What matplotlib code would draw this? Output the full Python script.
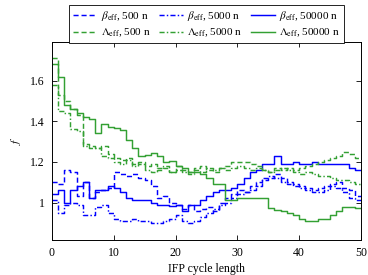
import numpy as np
import matplotlib
matplotlib.use("Agg")
import matplotlib.pyplot as plt

plt.rcParams['font.family'] = ['Liberation Serif', 'DejaVu Serif']
plt.rcParams['mathtext.fontset'] = 'stix'

cycle_edges = list(range(0, 51))

beta_500 = [1.10, 1.09, 1.16, 1.15, 1.03, 1.10, 1.02, 1.05, 1.06, 1.07,
            1.15, 1.14, 1.13, 1.14, 1.12, 1.11, 1.08, 1.02, 1.03, 1.00,
            0.99, 0.97, 0.99, 0.96, 0.97, 0.98, 0.96, 1.00, 1.02, 1.04,
            1.06, 1.05, 1.08, 1.10, 1.11, 1.12, 1.14, 1.12, 1.10, 1.09,
            1.08, 1.07, 1.06, 1.07, 1.08, 1.09, 1.10, 1.07, 1.06, 1.03]
beta_5000 = [1.01, 0.95, 0.99, 1.00, 0.99, 0.94, 0.94, 0.98, 0.99, 0.95,
             0.92, 0.91, 0.91, 0.92, 0.91, 0.91, 0.90, 0.90, 0.91, 0.92,
             0.94, 0.91, 0.90, 0.91, 0.93, 0.95, 0.97, 0.99, 1.00, 1.02,
             1.04, 1.05, 1.06, 1.08, 1.12, 1.13, 1.12, 1.10, 1.09, 1.08,
             1.07, 1.06, 1.05, 1.05, 1.06, 1.08, 1.07, 1.05, 1.02, 1.01]
beta_50000 = [1.04, 1.06, 1.00, 1.06, 1.08, 1.10, 1.02, 1.06, 1.06, 1.08,
              1.07, 1.05, 1.02, 1.01, 1.01, 1.01, 1.00, 0.99, 0.99, 0.985,
              0.99, 0.96, 0.99, 0.99, 1.01, 1.03, 1.05, 1.06, 1.06, 1.07,
              1.09, 1.12, 1.15, 1.16, 1.19, 1.19, 1.23, 1.19, 1.19, 1.20,
              1.19, 1.19, 1.20, 1.19, 1.19, 1.19, 1.19, 1.19, 1.17, 1.16]
lam_500 = [1.71, 1.53, 1.50, 1.46, 1.43, 1.29, 1.28, 1.27, 1.28, 1.24,
           1.22, 1.21, 1.22, 1.19, 1.20, 1.18, 1.19, 1.16, 1.17, 1.15,
           1.18, 1.16, 1.15, 1.17, 1.18, 1.16, 1.15, 1.17, 1.18, 1.20,
           1.20, 1.20, 1.19, 1.18, 1.16, 1.15, 1.17, 1.16, 1.17, 1.16,
           1.17, 1.18, 1.19, 1.20, 1.21, 1.22, 1.23, 1.25, 1.24, 1.22]
lam_5000 = [1.58, 1.45, 1.44, 1.36, 1.35, 1.28, 1.27, 1.27, 1.23, 1.22,
            1.20, 1.19, 1.21, 1.18, 1.19, 1.16, 1.15, 1.17, 1.18, 1.15,
            1.16, 1.15, 1.14, 1.16, 1.15, 1.17, 1.16, 1.17, 1.16, 1.17,
            1.18, 1.17, 1.16, 1.17, 1.16, 1.15, 1.16, 1.17, 1.16, 1.15,
            1.14, 1.15, 1.14, 1.13, 1.13, 1.12, 1.11, 1.11, 1.10, 1.09]
lam_50000 = [1.68, 1.62, 1.48, 1.46, 1.44, 1.42, 1.41, 1.34, 1.385, 1.37,
             1.365, 1.355, 1.31, 1.27, 1.23, 1.235, 1.245, 1.23, 1.20, 1.205,
             1.18, 1.17, 1.15, 1.15, 1.14, 1.12, 1.09, 1.09, 1.01, 1.01,
             1.02, 1.02, 1.02, 1.02, 1.02, 0.975, 0.965, 0.96, 0.95, 0.94,
             0.92, 0.91, 0.91, 0.92, 0.92, 0.94, 0.96, 0.98, 0.98, 0.975]

labels = [r'$\beta_\mathrm{eff}$, 500 n', r'$\beta_\mathrm{eff}$, 5000 n', r'$\beta_\mathrm{eff}$, 50000 n',
          r'$\Lambda_\mathrm{eff}$, 500 n', r'$\Lambda_\mathrm{eff}$, 5000 n', r'$\Lambda_\mathrm{eff}$, 50000 n']
x_ticks = [0, 10, 20, 30, 40, 50]
y_ticks = [1, 1.2, 1.4, 1.6]
y_ticklabels = ['1', '1.2', '1.4', '1.6']

blue = '#0000ff'
green = '#33a033'
dash = (0, (3.5, 2))
dashdot = (0, (3.5, 1.5, 1, 1.5))
series = [(beta_500, blue, dash), (beta_5000, blue, dashdot), (beta_50000, blue, '-'),
          (lam_500, green, dash), (lam_5000, green, dashdot), (lam_50000, green, '-')]

fig = plt.figure(figsize=(3.68, 2.75), dpi=100)
ax = fig.add_axes([0.141, 0.127, 0.840, 0.720])

handles = []
for (vals, col, ls), lab in zip(series, labels):
    y = list(vals) + [vals[-1]]
    h, = ax.step(cycle_edges, y, where='post', color=col, linestyle=ls, lw=1.05, label=lab)
    handles.append(h)

ax.set_xlim(0, 50)
ax.set_ylim(0.815, 1.79)
ax.set_xticks(x_ticks)
ax.set_yticks(y_ticks)
ax.set_yticklabels(y_ticklabels)
ax.tick_params(direction='in', top=True, right=True, length=3.5, width=0.6, labelsize=8.5, pad=5)
for s in ax.spines.values():
    s.set_linewidth(0.7)
ax.set_xlabel('IFP cycle length', fontsize=8.5, labelpad=3)
ax.set_ylabel(r'$f$', fontsize=8.5, labelpad=5)

# row-wise ordering for a 3-column legend
order = [0, 3, 1, 4, 2, 5]
leg = ax.legend([handles[i] for i in order], [labels[i] for i in order],
                loc='lower center', bbox_to_anchor=(0.5, 0.995), ncol=3, fontsize=8,
                frameon=True, fancybox=False, edgecolor='black', framealpha=1,
                handlelength=2.1, handletextpad=0.4, columnspacing=0.8,
                borderpad=0.35, labelspacing=0.35, borderaxespad=0)
leg.get_frame().set_linewidth(0.6)

fig.savefig('out.png', dpi=100)
